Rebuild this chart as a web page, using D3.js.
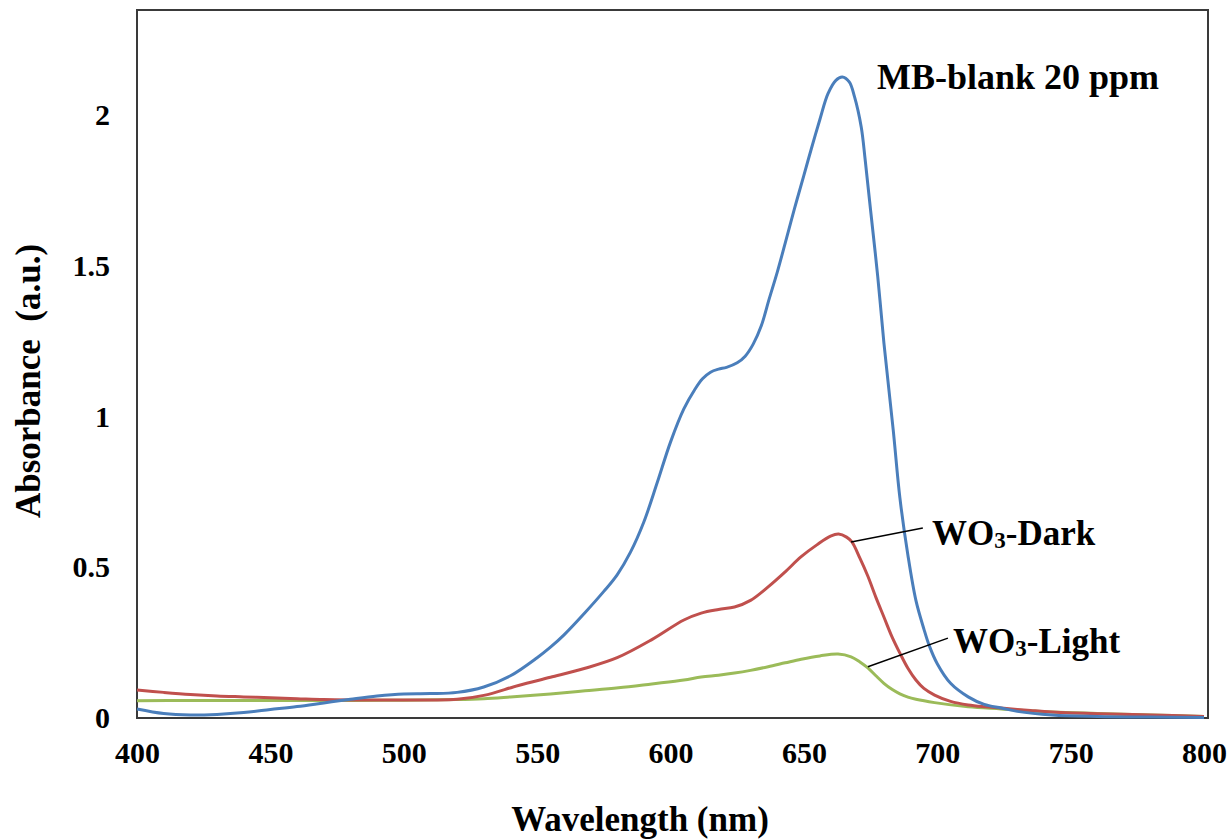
<!DOCTYPE html>
<html>
<head>
<meta charset="utf-8">
<script src="https://cdn.jsdelivr.net/npm/d3@7"></script>
<style>
  html, body { margin: 0; padding: 0; background: #fff; }
  svg { display: block; }
  text { font-family: "Liberation Serif", "Times New Roman", serif; font-weight: bold; fill: #000; }
</style>
</head>
<body>
<svg id="chart" width="1228" height="839"></svg>
<script>
// UV-Vis absorbance spectra of methylene blue (20 ppm) and after WO3 treatment
const mbWavelength = [400,410,420,430,440,450,460,470,480,490,500,510,520,530,540,550,555,560,568,575,580,585,590,595,600,605,609,612,615,618,621,625,628,631,634,637,640,643,646.5,650,652.8,656,659,662,664.4,667,669,671.5,673,675,677.7,680,683.5,686,689,692,695,697,700,705,711.6,717.6,724,730,743,760,780,800];
const mbAbsorbance = [0.03,0.015,0.01,0.012,0.018,0.028,0.038,0.05,0.062,0.073,0.08,0.081,0.085,0.103,0.14,0.2,0.235,0.275,0.35,0.42,0.475,0.55,0.65,0.78,0.915,1.025,1.088,1.125,1.147,1.157,1.163,1.178,1.2,1.24,1.3,1.39,1.478,1.575,1.69,1.8,1.888,1.985,2.07,2.115,2.126,2.11,2.06,1.96,1.85,1.685,1.463,1.244,0.955,0.73,0.54,0.39,0.295,0.24,0.18,0.115,0.07,0.045,0.033,0.022,0.01,0.005,0.003,0.002];

const darkWavelength = [400,410,420,430,440,450,460,470,480,490,500,510,520,530,543,555,568,580,593,605,611.5,618,624,630,636.6,643,649,655,660,663,666,668,671,674,677,680,683,686,689,692,695,699,705,711.6,718,724,735,743,760,780,800];
const darkAbsorbance = [0.093,0.085,0.078,0.073,0.07,0.067,0.064,0.061,0.06,0.06,0.06,0.06,0.062,0.075,0.108,0.135,0.165,0.2,0.26,0.325,0.348,0.36,0.368,0.39,0.435,0.485,0.535,0.575,0.603,0.61,0.6,0.584,0.53,0.47,0.4,0.335,0.27,0.215,0.165,0.126,0.098,0.076,0.055,0.043,0.037,0.033,0.025,0.02,0.014,0.01,0.005];

const lightWavelength = [400,420,440,460,480,500,520,530,540,555,568,580.5,593,605,611.5,618,624,630,636.6,643,649,656,662.8,667.7,671,674,677,680,683,686,689,692,699,711.6,724,743,760,780,800];
const lightAbsorbance = [0.057,0.058,0.058,0.058,0.058,0.059,0.061,0.064,0.07,0.08,0.09,0.1,0.113,0.126,0.136,0.142,0.149,0.158,0.17,0.183,0.195,0.206,0.212,0.203,0.186,0.166,0.14,0.115,0.095,0.08,0.069,0.062,0.051,0.037,0.03,0.02,0.015,0.01,0.005];

const xTicks = [400,450,500,550,600,650,700,750,800];
const yTicks = [0,0.5,1,1.5,2];
const yTickLabels = ["0","0.5","1","1.5","2"];

const seriesNames = ["MB-blank 20 ppm", "WO3-Dark", "WO3-Light"];
const seriesColors = ["#4a7ebb", "#c0504d", "#9bbb59"];

// callout anchors: [wavelength, absorbance] on the curve, and at the label end
const darkLeader = [[667.7, 0.584], [694.6, 0.63]];
const lightLeader = [[674, 0.17], [704, 0.265]];

const svg = d3.select("#chart");
const plot = { left: 137, right: 1208, top: 10, bottom: 718 };

const x = d3.scaleLinear().domain([400, 800]).range([137, 1204]);
const y = d3.scaleLinear().domain([0, 2]).range([718, 115]);

// plot-area frame
svg.append("rect")
  .attr("x", plot.left).attr("y", plot.top)
  .attr("width", plot.right - plot.left).attr("height", plot.bottom - plot.top)
  .attr("fill", "#fff").attr("stroke", "#3a3a3a").attr("stroke-width", 2);

// axes (labels only, no tick marks)
const yAxis = d3.axisLeft(y).tickValues(yTicks)
  .tickFormat((d, i) => yTickLabels[i]).tickSize(0).tickPadding(27);
const gy = svg.append("g").attr("transform", `translate(${plot.left},0)`).call(yAxis);
gy.select(".domain").remove();
gy.selectAll("text").style("font-size", "30px")
  .style("font-family", '"Liberation Serif","Times New Roman",serif').style("font-weight", "bold").attr("fill", "#000");

const xAxis = d3.axisBottom(x).tickValues(xTicks).tickFormat(d => d).tickSize(0).tickPadding(24);
const gx = svg.append("g").attr("transform", `translate(0,${plot.bottom})`).call(xAxis);
gx.select(".domain").remove();
gx.selectAll("text").style("font-size", "30px")
  .style("font-family", '"Liberation Serif","Times New Roman",serif').style("font-weight", "bold").attr("fill", "#000");

// spectra
const line = d3.line().x(d => x(d[0])).y(d => y(d[1])).curve(d3.curveCatmullRom.alpha(0.5));
const series = [
  d3.zip(lightWavelength, lightAbsorbance),
  d3.zip(darkWavelength, darkAbsorbance),
  d3.zip(mbWavelength, mbAbsorbance)
];
const colorOrder = [seriesColors[2], seriesColors[1], seriesColors[0]];
series.forEach((s, i) => {
  svg.append("path").datum(s)
    .attr("fill", "none").attr("stroke", colorOrder[i])
    .attr("stroke-width", 3).attr("stroke-linejoin", "round")
    .attr("d", line);
});

// callout leaders
[darkLeader, lightLeader].forEach(l => {
  svg.append("line")
    .attr("x1", x(l[0][0])).attr("y1", y(l[0][1]))
    .attr("x2", x(l[1][0])).attr("y2", y(l[1][1]))
    .attr("stroke", "#000").attr("stroke-width", 1.5);
});

// series labels
svg.append("text").attr("x", 877).attr("y", 89).style("font-size", "36px").text(seriesNames[0]);

function woLabel(xp, yp, suffix) {
  const t = svg.append("text").attr("x", xp).attr("y", yp).style("font-size", "35px");
  t.append("tspan").text("WO");
  t.append("tspan").style("font-size", "23px").attr("dy", 3).text("3");
  t.append("tspan").attr("dy", -3).text(suffix);
}
woLabel(932, 545, "-Dark");
woLabel(953, 653, "-Light");

// axis titles
svg.append("text").attr("x", 640).attr("y", 831).attr("text-anchor", "middle")
  .style("font-size", "35px").text("Wavelength (nm)");
svg.append("text").attr("transform", "translate(40,381) rotate(-90)").attr("text-anchor", "middle")
  .style("font-size", "35px").style("white-space", "pre").text("Absorbance  (a.u.)");
</script>
</body>
</html>
